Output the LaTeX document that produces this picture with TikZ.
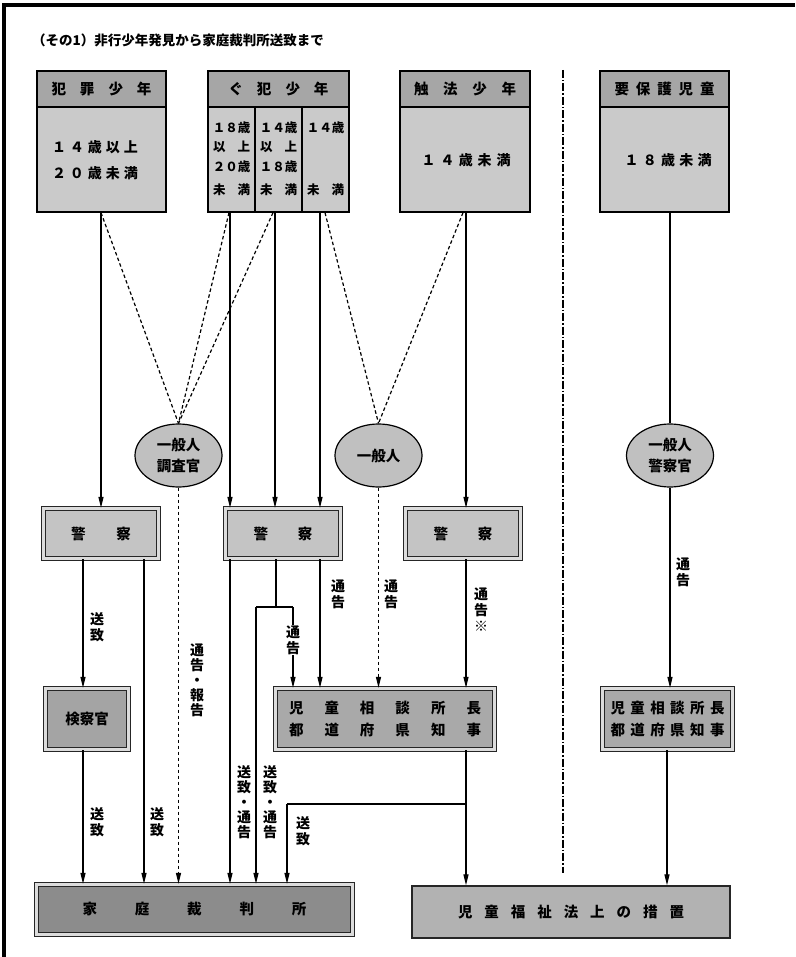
\documentclass[tikz,border=0pt]{standalone}
\usepackage{fontspec}
\setmainfont{Noto Sans CJK JP}
\usetikzlibrary{arrows.meta,shapes.geometric}
\definecolor{hdrgray}{HTML}{A6A6A6}
\definecolor{bodygray}{HTML}{CACACA}
\definecolor{polgray}{HTML}{C4C4C4}
\definecolor{ellgray}{HTML}{C0C0C0}
\definecolor{kengray}{HTML}{A4A4A4}
\definecolor{jdgray}{HTML}{A9A9A9}
\definecolor{kasaigray}{HTML}{8C8C8C}
\definecolor{fukugray}{HTML}{B2B2B2}
\definecolor{gapgray}{HTML}{DCDCDC}
\def\sprx#1{\ifx#1\relax\else\hfill#1\expandafter\sprx\fi}
\def\sprfirst#1{#1\sprx}
\newcommand\spr[2]{\makebox[#1][l]{\sprfirst#2\relax}}
\newcommand\bx[7]{\node[#6, minimum width={#4-#2}, minimum height={#5-#3}] (#1) at ({(#2+#4)/2},{(#3+#5)/2}) {#7};}
\begin{document}
\begin{tikzpicture}[x=1pt,y=-1pt,
  hdr/.style={draw, line width=1.3pt, fill=hdrgray, inner sep=0pt, font=\fontsize{14.5}{16}\selectfont\bfseries},
  bdy/.style={draw, line width=1.3pt, fill=bodygray, inner sep=0pt},
  dbl/.style={draw=black!85, line width=1.1pt, double=gapgray, double distance=2.5pt, inner sep=0pt, font=\fontsize{14.5}{16}\selectfont\bfseries, align=center},
  sgl/.style={draw=black!85, line width=1.3pt, inner sep=0pt, font=\fontsize{14.5}{16}\selectfont\bfseries},
  ell/.style={ellipse, draw, line width=1.2pt, fill=ellgray, inner sep=0pt, minimum width=87pt, minimum height=63pt, align=center, font=\fontsize{14.5}{21}\selectfont\bfseries},
  txt/.style={inner sep=0pt, font=\fontsize{14}{15}\selectfont\bfseries},
  ctxt/.style={inner sep=0pt, font=\fontsize{12.5}{14}\selectfont\bfseries},
  ln/.style={line width=1.2pt},
  arr/.style={line width=1.2pt, -{Triangle[length=11pt,width=5pt]}},
  dsh/.style={line width=1.2pt, dash pattern=on 3.5pt off 2.5pt},
  dsharr/.style={dsh, -{Triangle[length=11pt,width=5pt]}},
  lab/.style={align=center, inner sep=0.5pt, font=\fontsize{14}{16}\selectfont\bfseries}
]
\useasboundingbox (0,0) rectangle (795,957);
\fill[white] (0,0) rectangle (795,957);
\draw[line width=3.5pt] (4,957) -- (4,5) -- (795,5);

\node[anchor=west, inner sep=0pt, font=\fontsize{13.5}{15}\selectfont\bfseries] (title) at (32,40) {（その1）非行少年発見から家庭裁判所送致まで};

% top boxes
\bx{b1}{37}{107}{166}{212}{bdy}{}
\bx{h1}{37}{71}{166}{107}{hdr}{\spr{100pt}{犯罪少年}}
\node[txt] (t1a) at (95,147) {\spr{86pt}{１４歳以上}};
\node[txt] (t1b) at (95,173) {\spr{86pt}{２０歳未満}};

\bx{c21}{208}{107}{255}{212}{bdy}{}
\bx{c22}{255}{107}{302}{212}{bdy}{}
\bx{c23}{302}{107}{349}{212}{bdy}{}
\bx{h2}{208}{71}{349}{107}{hdr}{\spr{100pt}{ぐ犯少年}}
\node[ctxt] (t21) at (231.5,128) {１８歳};
\node[ctxt] (t22) at (231.5,147) {\spr{37pt}{以上}};
\node[ctxt] (t23) at (231.5,167) {２０歳};
\node[ctxt] (t24) at (231.5,190) {\spr{37pt}{未満}};
\node[ctxt] (t31) at (278.5,128) {１４歳};
\node[ctxt] (t32) at (278.5,147) {\spr{37pt}{以上}};
\node[ctxt] (t33) at (278.5,167) {１８歳};
\node[ctxt] (t34) at (278.5,190) {\spr{37pt}{未満}};
\node[ctxt] (t41) at (325.5,128) {１４歳};
\node[ctxt] (t44) at (325.5,190) {\spr{37pt}{未満}};

\bx{b3}{400}{107}{530}{212}{bdy}{}
\bx{h3}{400}{71}{530}{107}{hdr}{\spr{102pt}{触法少年}}
\node[txt] (t3) at (466,160) {\spr{89pt}{１４歳未満}};

\bx{b4}{600}{107}{729}{212}{bdy}{}
\bx{h4}{600}{71}{729}{107}{hdr}{\spr{100pt}{要保護児童}}
\node[txt] (t4) at (668,160) {\spr{87pt}{１８歳未満}};

% separator
\draw[line width=1.1pt, dash pattern=on 8pt off 2pt on 1.5pt off 2pt] (563,70) -- (563,873);

% ellipses
\node[ell] (e1) at (178.5,455.5) {一般人\\調査官};
\node[ell] (e2) at (378.5,455.5) {一般人};
\node[ell] (e3) at (670,455.5) {一般人\\警察官};

% police etc.
\bx{p1}{43.5}{508.5}{158.5}{558.5}{dbl, fill=polgray}{\spr{60pt}{警察}}
\bx{p2}{225.5}{508.5}{340.5}{558.5}{dbl, fill=polgray}{\spr{59pt}{警察}}
\bx{p3}{405.5}{508.5}{520.5}{558.5}{dbl, fill=polgray}{\spr{59pt}{警察}}
\bx{ken}{45.5}{688.5}{128.5}{749.5}{dbl, fill=kengray}{検察官}
\bx{jd1}{275.5}{688.5}{494.5}{749.5}{dbl, fill=jdgray, font=\fontsize{14.5}{22}\selectfont\bfseries}{\spr{192pt}{児童相談所長}\\\spr{192pt}{都道府県知事}}
\bx{jd2}{602.5}{688.5}{732.5}{749.5}{dbl, fill=jdgray, font=\fontsize{14.5}{22}\selectfont\bfseries}{\spr{114pt}{児童相談所長}\\\spr{114pt}{都道府県知事}}
\bx{kasai}{36.5}{884.5}{352.5}{934.5}{dbl, fill=kasaigray}{\spr{224pt}{家庭裁判所}}
\bx{fuku}{412}{886}{730}{938}{sgl, fill=fukugray}{\spr{226pt}{児童福祉法上の措置}}

% connectors from top boxes
\draw[arr] (b1.south -| 101,0) -- (p1.north -| 101,0);
\draw[dsh] (b1.south -| 101,0) -- (e1.north);
\draw[dsh] (c21.south -| 229,0) -- (e1.north);
\draw[dsh] (c22.south -| 273,0) -- (e1.north);
\draw[arr] (c21.south -| 230,0) -- (p2.north -| 230,0);
\draw[arr] (c22.south -| 275,0) -- (p2.north -| 275,0);
\draw[arr] (c23.south -| 320,0) -- (p2.north -| 320,0);
\draw[dsh] (c23.south -| 325,0) -- (e2.north);
\draw[dsh] (b3.south -| 463,0) -- (e2.north);
\draw[arr] (b3.south -| 466,0) -- (p3.north -| 466,0);
\draw[ln] (b4.south -| e3.north) -- (e3.north);
\draw[arr] (e3.south) -- (jd2.north -| e3.south);
\node[lab] (l1) at (683,572) {通\\告};

% police 1
\draw[arr] (p1.south -| 83,0) -- (ken.north -| 83,0);
\node[lab] (l2) at (97,627) {送\\致};
\draw[arr] (p1.south -| 144,0) -- (kasai.north -| 144,0);
\node[lab] (l3) at (157,822) {送\\致};
\draw[arr] (ken.south -| 83,0) -- (kasai.north -| 83,0);
\node[lab] (l4) at (97,822) {送\\致};
\draw[dsharr] (e1.south) -- (kasai.north -| e1.south);
\node[lab, font=\fontsize{14}{15}\selectfont\bfseries] (l5) at (197,680) {通\\告\\・\\報\\告};

% police 2
\coordinate (j1) at (276,607);
\coordinate (j1l) at (256,607);
\coordinate (j1r) at (293,607);
\draw[arr] (p2.south -| 230,0) -- (kasai.north -| 230,0);
\draw[ln] (p2.south -| j1) -- (j1);
\draw[ln] (j1l) -- (j1r);
\draw[arr] (j1l) -- (kasai.north -| j1l);
\draw[arr] (j1r) -- (jd1.north -| j1r);
\node[lab, fill=white] (l6) at (293,640) {通\\告};
\draw[arr] (p2.south -| 320,0) -- (jd1.north -| 320,0);
\node[lab] (l7) at (338,594) {通\\告};
\draw[dsharr] (e2.south) -- (jd1.north -| e2.south);
\node[lab] (l8) at (391,594) {通\\告};
\node[lab, font=\fontsize{14}{15}\selectfont\bfseries] (l9a) at (244,802) {送\\致\\・\\通\\告};
\node[lab, font=\fontsize{14}{15}\selectfont\bfseries] (l9b) at (270,802) {送\\致\\・\\通\\告};

% police 3
\draw[arr] (p3.south -| 466,0) -- (jd1.north -| 466,0);
\node[lab] (l10) at (481,610) {通\\告\\※};

% jd1 outputs
\coordinate (j2) at (466,804);
\coordinate (j2l) at (287,804);
\draw[arr] (jd1.south -| j2) -- (fuku.north -| j2);
\draw[ln] (j2) -- (j2l);
\draw[arr] (j2l) -- (kasai.north -| j2l);
\node[lab] (l11) at (303,831) {送\\致};

% jd2 output
\draw[arr] (jd2.south -| 667,0) -- (fuku.north -| 667,0);
\end{tikzpicture}
\end{document}
